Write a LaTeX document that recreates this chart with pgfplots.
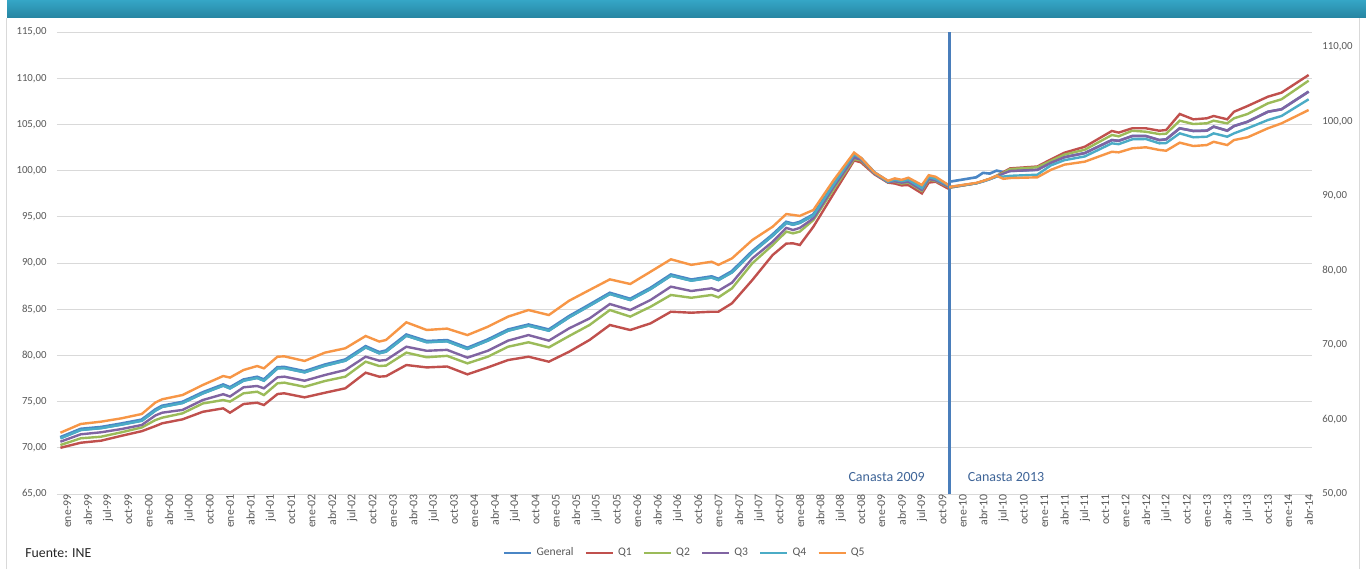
\documentclass[border=0pt]{standalone}
\usepackage{fontspec}
\setmainfont{Carlito}
\usepackage{pgfplots}
\pgfplotsset{compat=1.18}
\usepackage{pgfplotstable}
\definecolor{cG}{HTML}{4A86C5}
\definecolor{cQa}{HTML}{C0504D}
\definecolor{cQb}{HTML}{9BBB59}
\definecolor{cQc}{HTML}{8064A2}
\definecolor{cQd}{HTML}{4BACC6}
\definecolor{cQe}{HTML}{F79646}
\definecolor{tickgray}{HTML}{595959}
\definecolor{gridgray}{HTML}{D9D9D9}
\definecolor{vline}{HTML}{4A7EBB}
\definecolor{canasta}{HTML}{3F6598}
\definecolor{bandtop}{HTML}{35A6C6}
\definecolor{bandbot}{HTML}{2684A1}

\pgfplotstableread{
x G Q1 Q2 Q3 Q4 Q5
0 71.10 70.00 70.30 70.66 71.02 71.63
3 72.00 70.55 71.03 71.46 71.92 72.58
6 72.20 70.77 71.20 71.68 72.12 72.83
9 72.58 71.30 71.68 72.03 72.50 73.19
12 73.00 71.80 72.20 72.47 72.92 73.66
14 74.10 72.35 73.00 73.50 74.02 74.90
15 74.50 72.65 73.26 73.80 74.42 75.25
18 74.92 73.08 73.73 74.10 74.84 75.71
21 75.96 73.90 74.80 75.17 75.88 76.80
24 76.80 74.27 75.17 75.80 76.72 77.77
25 76.50 73.80 75.00 75.55 76.42 77.60
27 77.34 74.74 75.90 76.55 77.26 78.42
29 77.63 74.88 76.07 76.69 77.55 78.85
30 77.34 74.63 75.71 76.44 77.26 78.60
32 78.67 75.82 76.98 77.63 78.59 79.86
33 78.70 75.90 77.05 77.70 78.62 79.90
36 78.24 75.46 76.60 77.26 78.16 79.40
39 78.96 75.96 77.23 77.88 78.88 80.30
42 79.50 76.44 77.70 78.42 79.42 80.77
45 80.94 78.13 79.32 79.86 80.86 82.10
47 80.30 77.70 78.85 79.43 80.22 81.50
48 80.48 77.75 78.90 79.50 80.40 81.67
51 82.20 78.96 80.30 80.94 82.12 83.58
54 81.50 78.70 79.80 80.50 81.42 82.75
57 81.60 78.80 79.95 80.60 81.52 82.90
60 80.77 77.95 79.14 79.76 80.69 82.20
63 81.67 78.70 79.86 80.50 81.59 83.10
66 82.75 79.50 80.94 81.60 82.67 84.20
69 83.29 79.86 81.42 82.20 83.21 84.91
72 82.75 79.32 80.87 81.60 82.67 84.37
75 84.20 80.40 82.10 82.93 84.12 85.92
78 85.45 81.67 83.29 84.00 85.37 87.08
81 86.72 83.29 84.91 85.56 86.64 88.23
84 86.07 82.75 84.20 84.91 85.99 87.73
87 87.26 83.47 85.27 86.00 87.18 89.06
90 88.70 84.73 86.54 87.44 88.62 90.40
93 88.16 84.62 86.24 86.97 88.08 89.80
96 88.50 84.73 86.54 87.26 88.42 90.14
97 88.23 84.73 86.28 87.00 88.15 89.80
99 89.06 85.64 87.26 87.87 88.98 90.50
102 91.22 88.16 89.97 90.50 91.14 92.49
105 93.03 90.87 91.95 92.30 92.97 93.93
107 94.40 92.10 93.40 93.80 94.35 95.30
108 94.20 92.13 93.21 93.57 94.15 95.20
109 94.40 91.95 93.40 93.80 94.35 95.10
111 95.20 93.93 94.65 94.83 95.15 95.74
114 98.44 97.53 98.00 98.25 98.50 98.98
117 101.70 101.10 101.25 101.40 101.75 101.95
118 101.30 100.90 101.10 101.20 101.35 101.40
120 99.75 99.60 99.70 99.70 99.75 99.80
122 98.80 98.70 98.75 98.75 98.80 98.90
123 99.00 98.60 98.80 98.85 99.00 99.16
124 98.85 98.40 98.60 98.70 98.85 99.00
125 98.98 98.44 98.70 98.80 99.00 99.23
127 98.08 97.53 97.80 97.90 98.10 98.44
128 99.27 98.70 99.00 99.10 99.30 99.50
129 99.10 98.80 98.90 98.95 99.10 99.34
131 98.35 98.00 98.20 98.25 98.35 98.40
}\leftdata

\pgfplotstableread{
x G Q1 Q2 Q3 Q4 Q5
131 91.90 91.10 91.10 91.15 91.20 91.20
135 92.50 91.70 91.70 91.70 91.70 91.75
136 93.10 92.00 92.00 91.95 91.95 92.00
137 93.00 92.30 92.30 92.25 92.25 92.30
138 93.40 92.70 92.70 92.60 92.60 92.70
139 93.20 93.20 93.10 93.00 92.60 92.30
140 93.35 93.70 93.60 93.35 92.70 92.40
144 93.50 93.95 93.85 93.50 92.85 92.50
146 94.45 94.90 94.70 94.45 94.10 93.50
148 95.20 95.80 95.55 95.20 94.80 94.20
151 95.75 96.60 96.20 95.75 95.30 94.60
155 97.50 98.72 98.18 97.50 97.06 95.93
156 97.40 98.50 98.00 97.40 96.95 95.85
158 98.04 99.08 98.75 98.04 97.60 96.39
160 98.04 99.08 98.62 98.04 97.64 96.53
162 97.50 98.75 98.30 97.50 97.06 96.17
163 97.60 98.85 98.35 97.60 97.10 96.07
165 99.08 101.00 100.10 99.08 98.40 97.15
167 98.72 100.28 99.65 98.72 97.87 96.70
169 98.76 100.42 99.75 98.76 97.95 96.83
170 99.30 100.73 100.10 99.30 98.40 97.27
172 98.76 100.28 99.74 98.76 97.95 96.83
173 99.38 101.30 100.42 99.38 98.40 97.50
175 99.96 102.07 101.00 99.96 99.08 97.87
178 101.30 103.32 102.43 101.30 100.19 99.08
180 101.63 103.86 102.97 101.63 100.73 99.74
184 104.00 106.23 105.47 104.00 102.97 101.53
}\rightdata

\pgfplotsset{
  common/.style={
    at={(0pt,0pt)}, anchor=south west,
    scale only axis, width=627.5pt, height=231pt,
    xmin=-0.5, xmax=184.5,
    major tick length=0pt,
    axis line style={draw=none},
    /pgf/number format/.cd, fixed, fixed zerofill, precision=2, use comma, 1000 sep={}, assume math mode=true,
    /pgfplots/.cd,
    tick label style={text=tickgray},
  },
}

\begin{document}
\begin{tikzpicture}
\fill[white] (-28.5pt,-37.5pt) rectangle (654.5pt,247pt);
\shade[top color=bandtop, bottom color=bandbot] (-25pt,238pt) rectangle (654.5pt,247pt);
\draw[gridgray, line width=0.6pt] (-25.3pt,-37.5pt) -- (-25.3pt,238pt);
\draw[gridgray, line width=0.6pt] (651.1pt,-37.5pt) -- (651.1pt,238pt);

\begin{axis}[common,
  ymin=65, ymax=115,
  ytick={65,70,75,80,85,90,95,100,105,110,115},
  ymajorgrids, major grid style={gridgray, line width=0.5pt},
  xtick={0,3,...,183},
  xticklabels={ene-99,abr-99,jul-99,oct-99,ene-00,abr-00,jul-00,oct-00,ene-01,abr-01,jul-01,oct-01,ene-02,abr-02,jul-02,oct-02,ene-03,abr-03,jul-03,oct-03,ene-04,abr-04,jul-04,oct-04,ene-05,abr-05,jul-05,oct-05,ene-06,abr-06,jul-06,oct-06,ene-07,abr-07,jul-07,oct-07,ene-08,abr-08,jul-08,oct-08,ene-09,abr-09,jul-09,oct-09,ene-10,abr-10,jul-10,oct-10,ene-11,abr-11,jul-11,oct-11,ene-12,abr-12,jul-12,oct-12,ene-13,abr-13,jul-13,oct-13,ene-14,abr-14},
  xticklabel style={rotate=90, anchor=east, inner sep=0pt, yshift=-3.5pt, font=\fontsize{5.9}{6.5}\selectfont},
  yticklabel style={anchor=east, inner sep=0pt, xshift=-5pt, font=\fontsize{5.4}{6}\selectfont},
  legend style={at={(0.501,-0.128)}, anchor=center, draw=none, fill=none,
    font=\fontsize{5.8}{6.5}\selectfont, text=tickgray,
    /tikz/every even column/.append style={column sep=3.5pt},
    /tikz/every odd column/.append style={column sep=0pt}},
  legend columns=6,
  legend image code/.code={\draw[#1, line width=1.25pt] (0pt,0pt) -- (13.5pt,0pt);},
]
\addplot[cG, line width=1.8pt] table[x=x, y=G] {\leftdata};
\addlegendentry{General}
\addplot[cQa, line width=1.2pt] table[x=x, y=Q1] {\leftdata};
\addlegendentry{Q1}
\addplot[cQb, line width=1.2pt] table[x=x, y=Q2] {\leftdata};
\addlegendentry{Q2}
\addplot[cQc, line width=1.2pt] table[x=x, y=Q3] {\leftdata};
\addlegendentry{Q3}
\addplot[cQd, line width=1.2pt] table[x=x, y=Q4] {\leftdata};
\addlegendentry{Q4}
\addplot[cQe, line width=1.2pt] table[x=x, y=Q5] {\leftdata};
\addlegendentry{Q5}
\addplot[vline, line width=1.5pt, forget plot] coordinates {(131,65) (131,115)};
\node[font=\fontsize{7}{8}\selectfont, text=canasta] at (axis cs:121.8,66.84) {Canasta 2009};
\node[font=\fontsize{7}{8}\selectfont, text=canasta] at (axis cs:139.4,66.84) {Canasta 2013};
\end{axis}

\begin{axis}[common,
  ymin=50, ymax=112,
  axis y line*=right, axis x line=none,
  ytick={50,60,70,80,90,100,110},
  yticklabel style={anchor=west, inner sep=0pt, xshift=5pt, font=\fontsize{5.4}{6}\selectfont},
]
\addplot[cG, line width=1.3pt, forget plot] table[x=x, y=G] {\rightdata};
\addplot[cQa, line width=1.2pt, forget plot] table[x=x, y=Q1] {\rightdata};
\addplot[cQb, line width=1.2pt, forget plot] table[x=x, y=Q2] {\rightdata};
\addplot[cQc, line width=1.2pt, forget plot] table[x=x, y=Q3] {\rightdata};
\addplot[cQd, line width=1.2pt, forget plot] table[x=x, y=Q4] {\rightdata};
\addplot[cQe, line width=1.2pt, forget plot] table[x=x, y=Q5] {\rightdata};
\end{axis}

\node[anchor=west, inner sep=0pt, font=\fontsize{6.9}{8}\selectfont, text=black!85] at (-16pt,-29.5pt) {Fuente: INE};
\pgfresetboundingbox
\useasboundingbox (-28.5pt,-37.5pt) rectangle (654.5pt,247pt);
\end{tikzpicture}
\end{document}
